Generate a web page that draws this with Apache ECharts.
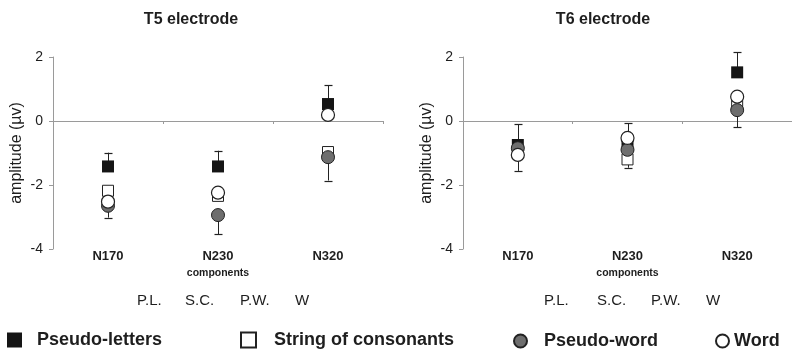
<!DOCTYPE html>
<html>
<head>
<meta charset="utf-8">
<script src="https://cdn.jsdelivr.net/npm/echarts@6/dist/echarts.min.js"></script>
<style>
  html, body { margin: 0; padding: 0; background: #fff; }
  #chart { width: 792px; height: 352px; }
</style>
</head>
<body>
<div id="chart"></div>
<script>
// ERP components on the category axis
const components = ['N170', 'N230', 'N320'];
const conditionNames = ['Pseudo-letters', 'String of consonants', 'Pseudo-word', 'Word'];
const conditionAbbrev = ['P.L.', 'S.C.', 'P.W.', 'W'];
const panelTitles = ['T5 electrode', 'T6 electrode'];
const axisTitle = 'amplitude (µv)';
const axisSubtitle = 'components';

// T5 electrode: mean amplitude (µV) per condition
const t5PseudoLetters = [-1.42, -1.42, 0.53];
const t5Consonants    = [-2.18, -2.34, -0.97];
const t5PseudoWord    = [-2.65, -2.94, -1.13];
const t5Word          = [-2.52, -2.24, 0.19];
// T5 whisker end points (upper from highest mean, lower from lowest mean)
const t5ErrTop    = [-0.99, -0.93, 1.12];
const t5ErrBottom = [-3.02, -3.54, -1.86];

// T6 electrode: mean amplitude (µV) per condition
const t6PseudoLetters = [-0.75, -0.75, 1.52];
const t6Consonants    = [-0.95, -1.20, 0.50];
const t6PseudoWord    = [-0.85, -0.90, 0.34];
const t6Word          = [-1.06, -0.53, 0.76];
const t6ErrTop    = [-0.10, -0.07, 2.15];
const t6ErrBottom = [-1.56, -1.46, -0.20];

const FONT = 'Liberation Sans, Arial, sans-serif';
const INK = '#1e1e1e';
const AXIS_GREY = '#9a9a9a';

const markerStyles = [
  { symbol: 'rect',   symbolSize: 12, itemStyle: { color: '#151515', opacity: 1 } },
  { symbol: 'rect',   symbolSize: 11, itemStyle: { color: '#ffffff', borderColor: '#222', borderWidth: 1, opacity: 1 } },
  { symbol: 'circle', symbolSize: 13, itemStyle: { color: '#6e6e6e', borderColor: '#222', borderWidth: 1, opacity: 1 } },
  { symbol: 'circle', symbolSize: 13, itemStyle: { color: '#ffffff', borderColor: '#222', borderWidth: 1.2, opacity: 1 } }
];

const panels = [
  { values: [t5PseudoLetters, t5Consonants, t5PseudoWord, t5Word], top: t5ErrTop, bottom: t5ErrBottom },
  { values: [t6PseudoLetters, t6Consonants, t6PseudoWord, t6Word], top: t6ErrTop, bottom: t6ErrBottom }
];

const gridLeft = [53, 463];
const gridWidth = 330;

function whiskerItem(params, api) {
  const x = api.value(0);
  const p0 = api.coord([x, api.value(1)]);
  const p1 = api.coord([x, api.value(2)]);
  const cx = Math.round(p0[0]) + 0.5;
  const half = 4;
  return {
    type: 'group',
    children: [
      { type: 'line', shape: { x1: cx, y1: p0[1], x2: cx, y2: p1[1] }, style: { stroke: '#222', lineWidth: 1 } },
      { type: 'line', shape: { x1: cx - half, y1: Math.round(p1[1]) + 0.5, x2: cx + half, y2: Math.round(p1[1]) + 0.5 }, style: { stroke: '#222', lineWidth: 1.2 } }
    ]
  };
}

const grid = [], xAxis = [], yAxis = [], series = [], title = [], graphic = [];

panels.forEach((panel, pi) => {
  grid.push({ left: gridLeft[pi], top: 57, width: gridWidth - (pi === 1 ? 1 : 0), height: 192, containLabel: false });

  // zero line with category boundary ticks
  xAxis.push({
    type: 'category', gridIndex: pi, data: components, position: 'bottom',
    axisLine: { show: true, onZero: true, lineStyle: { color: AXIS_GREY, width: 1 } },
    axisTick: { show: true, length: 3, lineStyle: { color: AXIS_GREY } },
    axisLabel: { show: false }, splitLine: { show: false }
  });
  // component labels along the bottom of the plot
  xAxis.push({
    type: 'category', gridIndex: pi, data: components, position: 'bottom',
    axisLine: { show: false, onZero: false }, axisTick: { show: false },
    axisLabel: { show: true, margin: 1, fontSize: 13, fontWeight: 'bold', color: INK, fontFamily: FONT },
    name: axisSubtitle, nameLocation: 'middle', nameGap: 16,
    nameTextStyle: { fontSize: 10.5, fontWeight: 'bold', color: INK, fontFamily: FONT },
    splitLine: { show: false }
  });

  yAxis.push({
    type: 'value', gridIndex: pi, min: -4, max: 2, interval: 2,
    axisLine: { show: true, lineStyle: { color: AXIS_GREY, width: 1 } },
    axisTick: { show: true, length: 4, lineStyle: { color: AXIS_GREY } },
    axisLabel: { fontSize: 14, color: INK, margin: 10, fontFamily: FONT },
    splitLine: { show: false },
    name: axisTitle, nameLocation: 'middle', nameRotate: 90, nameGap: 28,
    nameTextStyle: { fontSize: 16, color: INK, fontFamily: FONT }
  });

  // error whiskers: upward from the highest mean, downward from the lowest mean
  const whiskers = [];
  components.forEach((c, i) => {
    const col = panel.values.map(v => v[i]);
    whiskers.push([i, Math.max(...col), panel.top[i]]);
    whiskers.push([i, Math.min(...col), panel.bottom[i]]);
  });
  series.push({
    type: 'custom', xAxisIndex: pi * 2, yAxisIndex: pi, z: 1,
    renderItem: whiskerItem, encode: { x: 0, y: [1, 2] }, data: whiskers,
    silent: true
  });

  panel.values.forEach((vals, si) => {
    series.push(Object.assign({
      type: 'scatter', name: conditionNames[si], xAxisIndex: pi * 2, yAxisIndex: pi, z: 2 + si,
      data: vals.map((v, i) => [i, v]), silent: true
    }, markerStyles[si]));
  });

  title.push({
    text: panelTitles[pi], left: gridLeft[pi] + 133 + (pi === 1 ? 2 : 0), top: 7, textAlign: 'center',
    textStyle: { fontSize: 16, fontWeight: 'bold', color: INK, fontFamily: FONT }
  });
});

// condition abbreviations under each panel
const abbrevX = [[137, 185, 240, 295], [544, 597, 651, 706]];
abbrevX.forEach(row => {
  row.forEach((x, k) => {
    graphic.push({
      type: 'text', x: x, y: 301,
      style: { text: conditionAbbrev[k], fontSize: 15, fill: INK, fontFamily: FONT, verticalAlign: 'middle' }
    });
  });
});

// one legend block per condition so each can sit at its own spot
const legendSpots = [
  { left: 7,   top: 331, icon: 'rect',   w: 15, h: 15, pad: 10 },
  { left: 240, top: 331, icon: 'rect',   w: 15, h: 15, pad: 13 },
  { left: 513, top: 332, icon: 'circle', w: 13, h: 13, pad: 12 },
  { left: 715, top: 332, icon: 'circle', w: 13, h: 13, pad: 0 }
];
const legend = legendSpots.map((s, k) => ({
  left: s.left, top: s.top, orient: 'horizontal', selectedMode: false,
  itemWidth: s.w, itemHeight: s.h, padding: 0,
  data: [{ name: conditionNames[k], icon: s.icon }],
  textStyle: { fontSize: 18, fontWeight: 'bold', color: INK, fontFamily: FONT, padding: [0, 0, 0, s.pad] }
}));

const chart = echarts.init(document.getElementById('chart'), null, { renderer: 'canvas' });
chart.setOption({
  animation: false,
  backgroundColor: '#ffffff',
  title: title,
  grid: grid,
  xAxis: xAxis,
  yAxis: yAxis,
  legend: legend,
  series: series,
  graphic: graphic
});
</script>
</body>
</html>
